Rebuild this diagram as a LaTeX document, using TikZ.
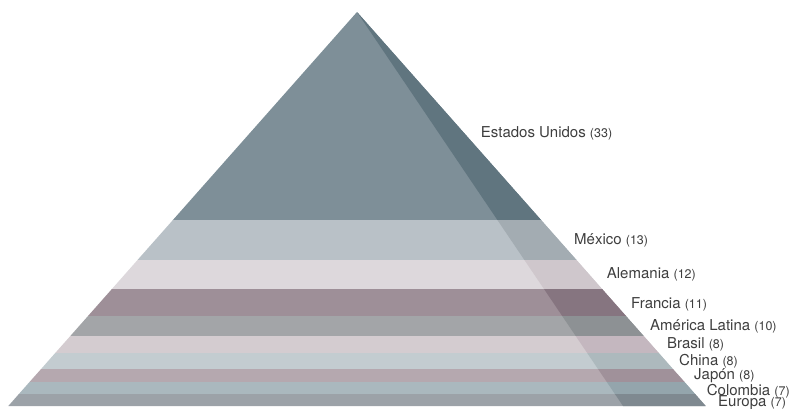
\documentclass[tikz,border=0pt]{standalone}
\usepackage{fontspec}
\setmainfont{TeX Gyre Heros}
\usepackage{xcolor}
\usepackage{tikz}
\definecolor{labelgray}{RGB}{62, 62, 62}
\definecolor{usafront}{RGB}{126, 143, 152}
\definecolor{usaside}{RGB}{96, 117, 127}
\definecolor{mexfront}{RGB}{185, 193, 199}
\definecolor{mexside}{RGB}{163, 172, 178}
\definecolor{deufront}{RGB}{221, 216, 220}
\definecolor{deuside}{RGB}{207, 199, 204}
\definecolor{frafront}{RGB}{158, 143, 152}
\definecolor{fraside}{RGB}{134, 117, 128}
\definecolor{latfront}{RGB}{163, 165, 168}
\definecolor{latside}{RGB}{141, 145, 148}
\definecolor{brafront}{RGB}{212, 204, 208}
\definecolor{braside}{RGB}{196, 183, 191}
\definecolor{chnfront}{RGB}{195, 204, 208}
\definecolor{chnside}{RGB}{173, 185, 189}
\definecolor{jpnfront}{RGB}{181, 168, 175}
\definecolor{jpnside}{RGB}{160, 145, 154}
\definecolor{colfront}{RGB}{170, 184, 190}
\definecolor{colside}{RGB}{148, 165, 172}
\definecolor{eurfront}{RGB}{156, 162, 168}
\definecolor{eurside}{RGB}{127, 137, 144}
\newcommand{\countnum}[1]{{\fontsize{12.5}{14}\selectfont #1}}
\tikzset{country/.style={anchor=base west, inner sep=0pt, text=labelgray,
    font=\fontsize{15}{18}\selectfont}}

\begin{document}
\begin{tikzpicture}[x=1pt,y=-1pt]
    \useasboundingbox (0,0) rectangle (790,408);

    % Estados Unidos (top of the pyramid)
    \fill[usafront] (357,12) -- (541.1,220) -- (172.9,220) -- cycle;
    \fill[usaside] (357,12) -- (541.1,220) -- (497.4,220) -- cycle;

    % Mexico
    \fill[mexfront] (172.9,220) -- (541.1,220) -- (576.5,260) -- (137.5,260) -- cycle;
    \fill[mexside] (497.4,220) -- (541.1,220) -- (576.5,260) -- (524.4,260) -- cycle;

    % Alemania
    \fill[deufront] (137.5,260) -- (576.5,260) -- (602.1,289) -- (111.9,289) -- cycle;
    \fill[deuside] (524.4,260) -- (576.5,260) -- (602.1,289) -- (544.0,289) -- cycle;

    % Francia
    \fill[frafront] (111.9,289) -- (602.1,289) -- (626.0,316) -- (88.0,316) -- cycle;
    \fill[fraside] (544.0,289) -- (602.1,289) -- (626.0,316) -- (562.2,316) -- cycle;

    % America Latina
    \fill[latfront] (88.0,316) -- (626.0,316) -- (643.7,336) -- (70.3,336) -- cycle;
    \fill[latside] (562.2,316) -- (626.0,316) -- (643.7,336) -- (575.7,336) -- cycle;

    % Brasil
    \fill[brafront] (70.3,336) -- (643.7,336) -- (658.8,353) -- (55.2,353) -- cycle;
    \fill[braside] (575.7,336) -- (643.7,336) -- (658.8,353) -- (587.2,353) -- cycle;

    % China
    \fill[chnfront] (55.2,353) -- (658.8,353) -- (672.9,369) -- (41.1,369) -- cycle;
    \fill[chnside] (587.2,353) -- (658.8,353) -- (672.9,369) -- (598.0,369) -- cycle;

    % Japon
    \fill[jpnfront] (41.1,369) -- (672.9,369) -- (684.5,382) -- (29.5,382) -- cycle;
    \fill[jpnside] (598.0,369) -- (672.9,369) -- (684.5,382) -- (606.8,382) -- cycle;

    % Colombia
    \fill[colfront] (29.5,382) -- (684.5,382) -- (695.1,394) -- (18.9,394) -- cycle;
    \fill[colside] (606.8,382) -- (684.5,382) -- (695.1,394) -- (614.9,394) -- cycle;

    % Europa (base)
    \fill[eurfront] (18.9,394) -- (695.1,394) -- (705.7,406) -- (8.3,406) -- cycle;
    \fill[eurside] (614.9,394) -- (695.1,394) -- (705.7,406) -- (623.0,406) -- cycle;

    % Labels
    \node[country] (usa) at (480.7,137) {Estados Unidos \countnum{(33)}};
    \node[country] (mex) at (574,244) {México \countnum{(13)}};
    \node[country] (deu) at (606.7,278) {Alemania \countnum{(12)}};
    \node[country] (fra) at (631,308) {Francia \countnum{(11)}};
    \node[country] (lat) at (650,330) {América Latina \countnum{(10)}};
    \node[country] (bra) at (667,348) {Brasil \countnum{(8)}};
    \node[country] (chn) at (679,365) {China \countnum{(8)}};
    \node[country] (jpn) at (694,379) {Japón \countnum{(8)}};
    \node[country] (col) at (706.7,395) {Colombia \countnum{(7)}};
    \node[country] (eur) at (718,406) {Europa \countnum{(7)}};

\end{tikzpicture}
\end{document}
